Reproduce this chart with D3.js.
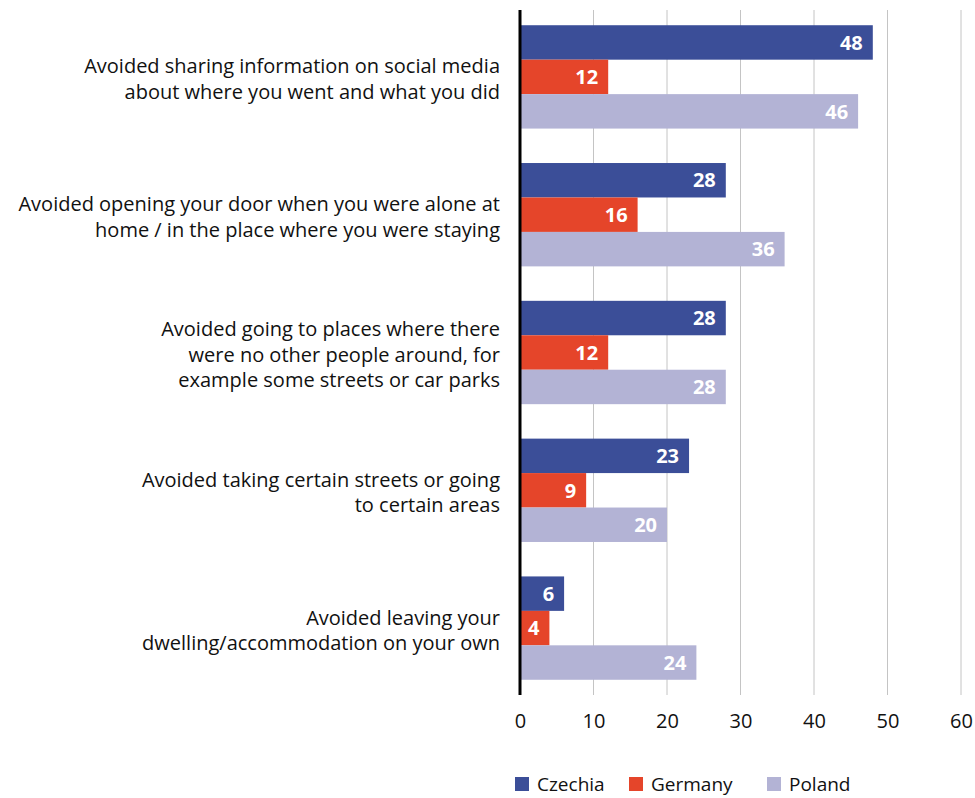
<!DOCTYPE html>
<html>
<head>
<meta charset="utf-8">
<script src="https://cdn.jsdelivr.net/npm/d3@7"></script>
<style>
  html, body { margin: 0; padding: 0; background: #fff; }
  svg { display: block; font-family: "Open Sans", "Noto Sans", sans-serif; }
</style>
</head>
<body>
<svg id="chart" width="975" height="798"></svg>
<script>
const categories = [
  ["Avoided sharing information on social media", "about where you went and what you did"],
  ["Avoided opening your door when you were alone at", "home / in the place where you were staying"],
  ["Avoided going to places where there", "were no other people around, for", "example some streets or car parks"],
  ["Avoided taking certain streets or going", "to certain areas"],
  ["Avoided leaving your", "dwelling/accommodation on your own"]
];
const series = ["Czechia", "Germany", "Poland"];
const czechia = [48, 28, 28, 23, 6];
const germany = [12, 16, 12, 9, 4];
const poland  = [46, 36, 28, 20, 24];
const colors = ["#3b4e98", "#e5452a", "#b3b3d5"];
const xTicks = [0, 10, 20, 30, 40, 50, 60];

const values = [czechia, germany, poland];
const svg = d3.select("#chart");

const x = d3.scaleLinear().domain([0, 60]).range([520, 961]);
const y = d3.scaleBand().domain(d3.range(categories.length)).range([8, 697]).paddingInner(0.25).paddingOuter(0.125);
const ys = d3.scaleBand().domain(series).range([0, y.bandwidth()]);

// gridlines
svg.append("g").selectAll("line").data(xTicks.slice(1)).join("line")
  .attr("x1", d => x(d)).attr("x2", d => x(d))
  .attr("y1", 10).attr("y2", 695)
  .attr("stroke", "#c4c4c4").attr("stroke-width", 1);

// bars
const groups = svg.append("g").selectAll("g").data(categories).join("g")
  .attr("transform", (d, i) => `translate(0,${y(i)})`);

series.forEach((s, si) => {
  groups.append("rect")
    .attr("x", x(0))
    .attr("y", ys(s))
    .attr("width", (d, i) => x(values[si][i]) - x(0))
    .attr("height", ys.bandwidth())
    .attr("fill", colors[si]);
  groups.append("text")
    .attr("x", (d, i) => x(values[si][i]) - 10)
    .attr("y", ys(s) + ys.bandwidth() / 2)
    .attr("dy", "0.36em")
    .attr("text-anchor", "end")
    .attr("fill", "#fff")
    .attr("font-weight", "bold")
    .attr("font-size", 20)
    .text((d, i) => values[si][i]);
});

// category labels
groups.append("text")
  .attr("text-anchor", "end")
  .attr("font-size", 20)
  .attr("fill", "#111")
  .each(function(lines) {
    const t = d3.select(this);
    const n = lines.length;
    const lh = 25.5;
    lines.forEach((ln, k) => {
      t.append("tspan")
        .attr("x", 500)
        .attr("y", y.bandwidth() / 2 + (k - (n - 1) / 2) * lh + 2)
        .attr("dy", "0.36em")
        .text(ln);
    });
  });

// axis line
svg.append("line")
  .attr("x1", x(0)).attr("x2", x(0))
  .attr("y1", 10).attr("y2", 695)
  .attr("stroke", "#000").attr("stroke-width", 3);

// x tick labels
const xAxis = d3.axisBottom(x).tickValues(xTicks).tickSize(0).tickPadding(0);
const ax = svg.append("g").attr("transform", "translate(0,714)").call(xAxis);
ax.select(".domain").remove();
ax.selectAll("text").attr("font-size", 20).attr("fill", "#111")
  .attr("font-family", "\"Open Sans\", sans-serif");

// legend
const legendX = [515, 629, 767];
const lg = svg.append("g").selectAll("g").data(series).join("g")
  .attr("transform", (d, i) => `translate(${legendX[i]},777)`);
lg.append("rect").attr("width", 14).attr("height", 14).attr("fill", (d, i) => colors[i]);
lg.append("text").attr("x", 22).attr("y", 7).attr("dy", "0.36em")
  .attr("font-size", 19).attr("fill", "#111").text(d => d);
</script>
</body>
</html>
